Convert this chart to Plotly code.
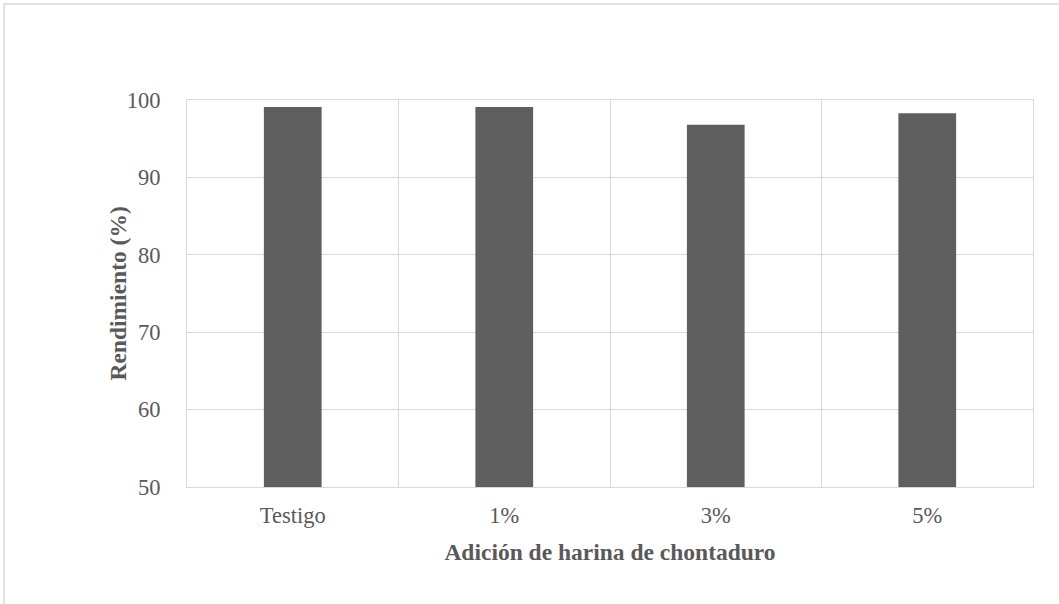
import plotly.graph_objects as go

# Rendimiento por nivel de adición de harina de chontaduro
categorias = ["Testigo", "1%", "3%", "5%"]
rendimiento = [99.1, 99.1, 96.8, 98.3]
y_ticks = [50, 60, 70, 80, 90, 100]

posiciones = list(range(len(categorias)))
limites = [p - 0.5 for p in posiciones] + [posiciones[-1] + 0.5]

GRID = "#d9d9d9"
TEXT = "#595959"
FONT = "Liberation Serif, Times New Roman, serif"

fig = go.Figure(
    go.Bar(
        x=posiciones,
        y=rendimiento,
        marker=dict(color="#5f5f5f", line=dict(width=0)),
        hoverinfo="x+y",
    )
)

fig.update_layout(
    width=1059,
    height=604,
    margin=dict(l=187, r=26, t=100, b=117),
    paper_bgcolor="white",
    plot_bgcolor="white",
    bargap=0.727,
    showlegend=False,
    font=dict(family=FONT, color=TEXT, size=22.5),
    shapes=[
        # marco exterior del gráfico
        dict(
            type="rect",
            xref="paper",
            yref="paper",
            x0=-0.2162,
            x1=1.2,
            y0=-0.5,
            y1=1.248,
            line=dict(color=GRID, width=1.5),
            fillcolor="rgba(0,0,0,0)",
            layer="below",
        )
    ],
    annotations=[
        # título del eje vertical
        dict(
            text="<b>Rendimiento (%)</b>",
            xref="paper",
            yref="paper",
            x=-0.0827,
            y=0.5,
            xanchor="center",
            yanchor="middle",
            textangle=-90,
            showarrow=False,
            font=dict(family=FONT, color=TEXT, size=23.5),
        )
    ],
)

fig.update_xaxes(
    range=[limites[0], limites[-1]],
    tickmode="array",
    tickvals=posiciones,
    ticktext=categorias,
    showgrid=False,
    zeroline=False,
    ticks="",
    ticklabelstandoff=8,
    showline=True,
    mirror=True,
    linecolor=GRID,
    linewidth=1.2,
    minor=dict(tickmode="array", tickvals=limites, showgrid=True, gridcolor=GRID, gridwidth=1.2, ticks=""),
    tickfont=dict(family=FONT, color=TEXT, size=22.5),
    title=dict(
        text="<b>Adición de harina de chontaduro</b>",
        font=dict(family=FONT, color=TEXT, size=23.5),
        standoff=16,
    ),
)

fig.update_yaxes(
    range=[y_ticks[0], y_ticks[-1]],
    tickmode="array",
    tickvals=y_ticks,
    showgrid=True,
    gridcolor=GRID,
    gridwidth=1.2,
    zeroline=False,
    ticks="",
    ticklabelstandoff=21,
    showline=True,
    mirror=True,
    linecolor=GRID,
    linewidth=1.2,
    tickfont=dict(family=FONT, color=TEXT, size=22.5),
)

fig.write_html("out.html")
